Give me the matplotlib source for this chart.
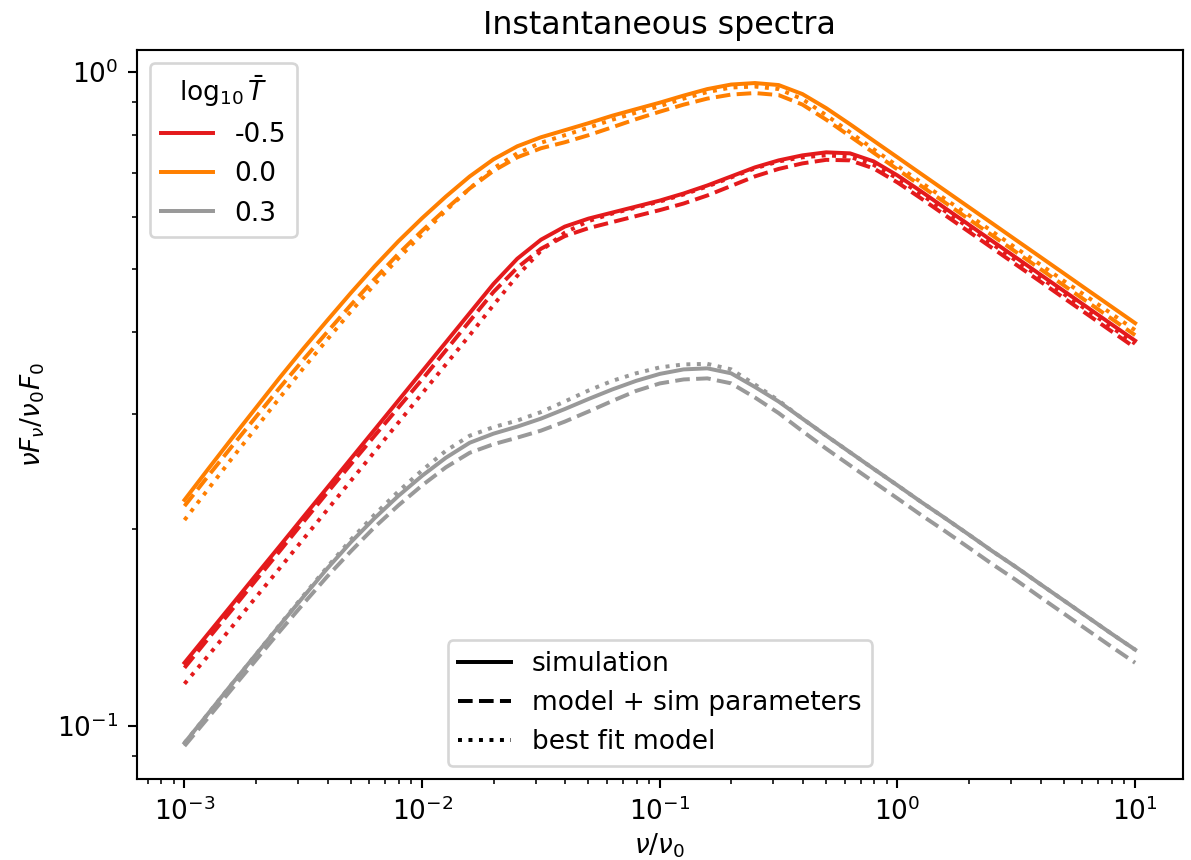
import numpy as np
import matplotlib
matplotlib.use("Agg")
import matplotlib.pyplot as plt
from matplotlib.lines import Line2D

# frequency grid nu/nu_0 (0.1 dex steps)
nu = np.array([
    0.001, 0.001259, 0.001585, 0.001995, 0.002512, 0.003162, 0.003981, 0.005012, 0.00631, 0.007943,
    0.01, 0.01259, 0.01585, 0.01995, 0.02512, 0.03162, 0.03981, 0.05012, 0.0631, 0.07943,
    0.1, 0.1259, 0.1585, 0.1995, 0.2512, 0.3162, 0.3981, 0.5012, 0.631, 0.7943,
    1.0, 1.259, 1.585, 1.995, 2.512, 3.162, 3.981, 5.012, 6.31, 7.943,
    10.0])

log_T = ["-0.5", "0.0", "0.3"]
colors = ["#e41a1c", "#ff7f00", "#999999"]

# log10 T = -0.5
red_sim = [0.1248, 0.1383, 0.1532, 0.1698, 0.1881, 0.2085, 0.2310, 0.2560, 0.2836, 0.3142,
           0.3482, 0.3858, 0.4275, 0.4736, 0.5176, 0.5535, 0.5796, 0.5962, 0.6090, 0.6220,
           0.6353, 0.6513, 0.6700, 0.6916, 0.7140, 0.7318, 0.7449, 0.7529, 0.7502, 0.7292,
           0.6940, 0.6559, 0.6187, 0.5837, 0.5505, 0.5194, 0.4899, 0.4621, 0.4359, 0.4111,
           0.3879]
red_model = [0.1226, 0.1359, 0.1505, 0.1668, 0.1848, 0.2049, 0.2270, 0.2511, 0.2776, 0.3065,
             0.3385, 0.3750, 0.4156, 0.4604, 0.5014, 0.5362, 0.5605, 0.5765, 0.5889, 0.6015,
             0.6143, 0.6287, 0.6468, 0.6688, 0.6917, 0.7101, 0.7241, 0.7332, 0.7319, 0.7114,
             0.6771, 0.6399, 0.6036, 0.5695, 0.5371, 0.5067, 0.4780, 0.4508, 0.4253, 0.4011,
             0.3784]
red_fit = [0.1159, 0.1280, 0.1417, 0.1571, 0.1740, 0.1929, 0.2137, 0.2369, 0.2624, 0.2907,
           0.3222, 0.3569, 0.3955, 0.4397, 0.4874, 0.5324, 0.5674, 0.5910, 0.6069, 0.6198,
           0.6331, 0.6490, 0.6677, 0.6892, 0.7115, 0.7292, 0.7397, 0.7450, 0.7410, 0.7202,
           0.6867, 0.6490, 0.6122, 0.5776, 0.5447, 0.5139, 0.4848, 0.4572, 0.4313, 0.4068,
           0.3838]

# log10 T = 0.0
orange_sim = [0.2214, 0.2470, 0.2752, 0.3060, 0.3403, 0.3771, 0.4163, 0.4589, 0.5040, 0.5505,
              0.5972, 0.6444, 0.6916, 0.7345, 0.7690, 0.7939, 0.8138, 0.8343, 0.8565, 0.8765,
              0.8968, 0.9193, 0.9407, 0.9558, 0.9609, 0.9541, 0.9243, 0.8796, 0.8313, 0.7841,
              0.7397, 0.6977, 0.6582, 0.6209, 0.5858, 0.5525, 0.5212, 0.4916, 0.4636, 0.4374,
              0.4126]
orange_model = [0.2167, 0.2410, 0.2675, 0.2964, 0.3285, 0.3627, 0.3997, 0.4399, 0.4822, 0.5267,
                0.5714, 0.6166, 0.6629, 0.7053, 0.7397, 0.7637, 0.7800, 0.7997, 0.8224, 0.8461,
                0.8687, 0.8905, 0.9097, 0.9226, 0.9276, 0.9210, 0.8907, 0.8446, 0.7968, 0.7516,
                0.7090, 0.6687, 0.6309, 0.5951, 0.5615, 0.5296, 0.4996, 0.4712, 0.4444, 0.4193,
                0.3955]
orange_fit = [0.2063, 0.2301, 0.2564, 0.2851, 0.3171, 0.3520, 0.3892, 0.4299, 0.4730, 0.5184,
              0.5644, 0.6133, 0.6629, 0.7115, 0.7502, 0.7787, 0.7996, 0.8211, 0.8445, 0.8657,
              0.8858, 0.9096, 0.9308, 0.9458, 0.9491, 0.9407, 0.9081, 0.8581, 0.8081, 0.7609,
              0.7178, 0.6771, 0.6387, 0.6036, 0.5694, 0.5371, 0.5075, 0.4787, 0.4523, 0.4267,
              0.4025]

# log10 T = 0.3
gray_sim = [0.0941, 0.1044, 0.1159, 0.1284, 0.1423, 0.1574, 0.1738, 0.1908, 0.2077, 0.2246,
            0.2411, 0.2569, 0.2708, 0.2796, 0.2866, 0.2948, 0.3049, 0.3159, 0.3267, 0.3367,
            0.3451, 0.3506, 0.3519, 0.3458, 0.3296, 0.3131, 0.2948, 0.2777, 0.2619, 0.2470,
            0.2331, 0.2198, 0.2077, 0.1960, 0.1848, 0.1747, 0.1647, 0.1554, 0.1466, 0.1383,
            0.1307]
gray_model = [0.0931, 0.1029, 0.1139, 0.1259, 0.1393, 0.1536, 0.1690, 0.1848, 0.2012, 0.2172,
              0.2331, 0.2484, 0.2614, 0.2694, 0.2757, 0.2826, 0.2917, 0.3023, 0.3137, 0.3250,
              0.3337, 0.3384, 0.3397, 0.3338, 0.3176, 0.3006, 0.2821, 0.2652, 0.2501, 0.2359,
              0.2226, 0.2099, 0.1984, 0.1872, 0.1765, 0.1669, 0.1573, 0.1484, 0.1400, 0.1321,
              0.1248]
gray_fit = [0.0941, 0.1044, 0.1159, 0.1284, 0.1426, 0.1580, 0.1747, 0.1925, 0.2103, 0.2282,
            0.2458, 0.2633, 0.2776, 0.2861, 0.2928, 0.3017, 0.3131, 0.3255, 0.3367, 0.3458,
            0.3531, 0.3568, 0.3575, 0.3507, 0.3325, 0.3142, 0.2948, 0.2777, 0.2619, 0.2470,
            0.2331, 0.2198, 0.2077, 0.1960, 0.1848, 0.1747, 0.1647, 0.1554, 0.1466, 0.1383,
            0.1307]

sims = [red_sim, orange_sim, gray_sim]
models = [red_model, orange_model, gray_model]
fits = [red_fit, orange_fit, gray_fit]

fig = plt.figure(figsize=(1191 / 190, 860 / 190), dpi=190)
ax = fig.add_axes([0.115, 0.094, 0.878, 0.848])

for lab, c, s, m, f in zip(log_T, colors, sims, models, fits):
    ax.plot(nu, s, color=c, ls="-", label=lab)
    ax.plot(nu, m, color=c, ls="--")
    ax.plot(nu, f, color=c, ls=":")

ax.set_xscale("log")
ax.set_yscale("log")
ax.set_xlabel(r"$\nu/\nu_0$", labelpad=2)
ax.set_ylabel(r"$\nu F_\nu/\nu_0 F_0$")
ax.set_title("Instantaneous spectra")

leg1 = ax.legend(title=r"$\log_{10}\bar{T}$", loc="upper left")
ax.add_artist(leg1)

style_handles = [Line2D([], [], color="k", ls="-"),
                 Line2D([], [], color="k", ls="--"),
                 Line2D([], [], color="k", ls=":")]
ax.legend(style_handles, ["simulation", "model + sim parameters", "best fit model"],
          loc="lower center")

fig.savefig("out.png", dpi=190)
